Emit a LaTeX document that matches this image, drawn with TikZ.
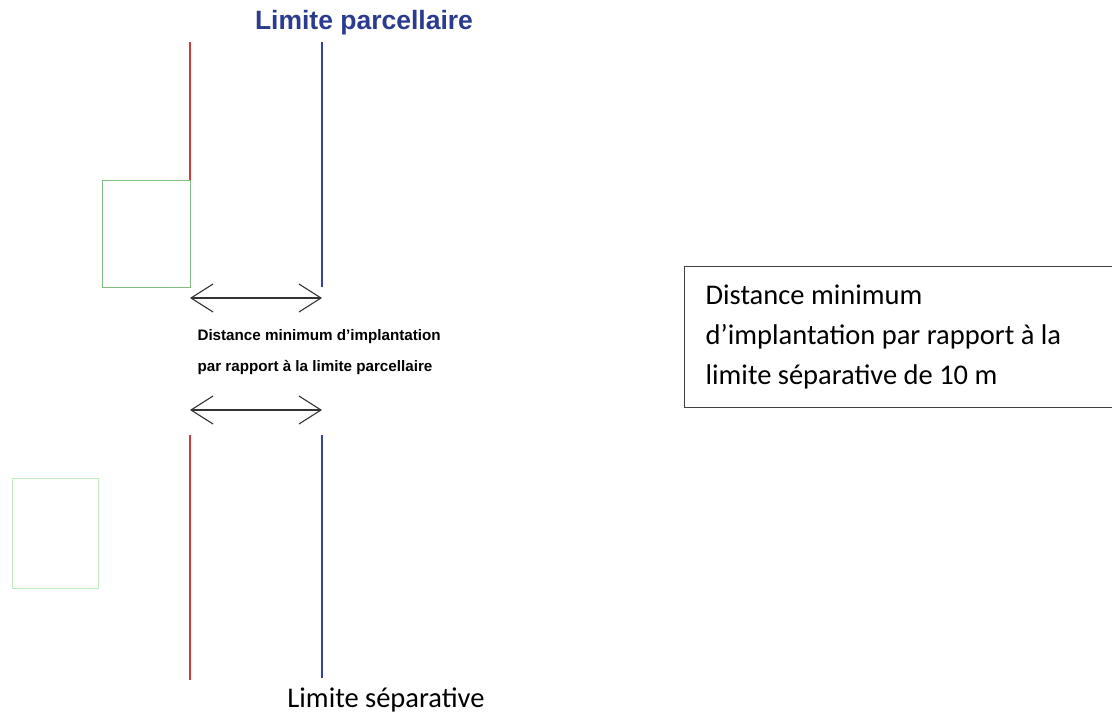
\documentclass[tikz,border=0pt]{standalone}
\usepackage{fontspec}
\setmainfont{Carlito}
\newfontfamily\arialfont{Liberation Sans}
\usetikzlibrary{arrows.meta,positioning}
\definecolor{limred}{HTML}{D03A3A}
\definecolor{limblue}{HTML}{3344A0}
\definecolor{titleblue}{HTML}{2B3C8E}
\tikzset{
  red limit/.style={draw=limred, line width=1.8pt},
  blue limit/.style={draw=limblue, line width=1.8pt},
  gap arrow/.style={
    draw=black!80, line width=1.1pt,
    {Straight Barb[length=22pt,width=28pt,line width=1.1pt]}-{Straight Barb[length=22pt,width=28pt,line width=1.1pt]},
  },
  plot box/.style={draw=#1, line width=1pt},
  note box/.style={
    draw=black!75, line width=1.3pt,
    anchor=north west,
    inner xsep=21pt,
    text width=386pt,
    minimum height=141pt,
    align=flush left,
    font=\fontsize{28.5}{40}\selectfont,
  },
  small bold/.style={
    anchor=west,
    font=\arialfont\bfseries\fontsize{15.2}{17}\selectfont,
  }
}
\begin{document}
\begin{tikzpicture}[x=1pt, y=-1pt]
        \useasboundingbox (0,0) rectangle (1112,721);

        % limites (haut)
        \coordinate (r1) at (190,42);
        \coordinate (r2) at (190,180);
        \coordinate (b1) at (322,42);
        \coordinate (b2) at (322,287);
        \draw [red limit] (r1) -- (r2);
        \draw [blue limit] (b1) -- (b2);

        % limites (bas)
        \coordinate (r3) at (190,435);
        \coordinate (r4) at (190,680);
        \coordinate (b3) at (322,435);
        \coordinate (b4) at (322,678);
        \draw [red limit] (r3) -- (r4);
        \draw [blue limit] (b3) -- (b4);

        % constructions
        \draw [plot box=green!50!black!50] (102,180) rectangle (190,287);
        \draw [plot box=black!30!green!25] (12,478) rectangle (98,588);

        % distances
        \coordinate (a1) at (190,298);
        \coordinate (a2) at (322,298);
        \coordinate (a3) at (190,410);
        \coordinate (a4) at (322,410);
        \draw [gap arrow] (a1) -- (a2);
        \draw [gap arrow] (a3) -- (a4);

        \node [small bold] (dist1) at (194,337) {Distance minimum d’implantation};
        \node [small bold] (dist2) at (194,367) {par rapport à la limite parcellaire};

        \node [font=\arialfont\bfseries\fontsize{26.5}{28}\selectfont, text=titleblue] (parc) at (364,23) {Limite parcellaire};
        \node [font=\fontsize{28.5}{32}\selectfont] (sep) at (386,700) {Limite séparative};

        \node [note box] (note) at (684,266) {Distance minimum\\ d’implantation par rapport à la\\ limite séparative de 10 m};
    \end{tikzpicture}
\end{document}
